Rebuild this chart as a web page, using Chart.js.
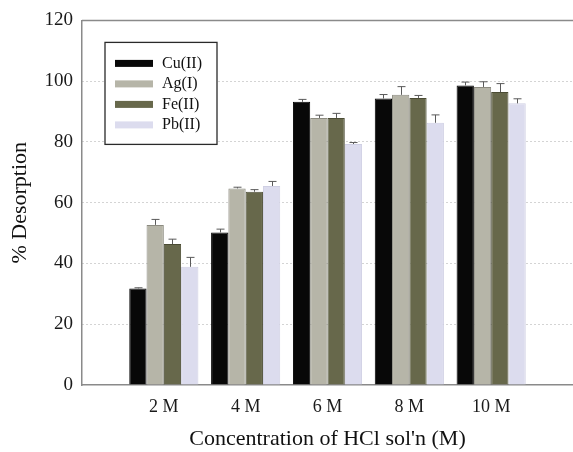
<!DOCTYPE html>
<html>
<head>
<meta charset="utf-8">
<script src="https://cdn.jsdelivr.net/npm/chart.js@4.4.1/dist/chart.umd.min.js"></script>
<style>
  html, body { margin: 0; padding: 0; background: #fff; }
  #wrap { width: 573px; height: 452px; }
</style>
</head>
<body>
<div id="wrap"><canvas id="chart_1"></canvas></div>
<script>
// concentrations (M) and their tick labels
var concentrations = [2, 4, 6, 8, 10];
var tickLabels = ['2 M', '4 M', '6 M', '8 M', '10 M'];

// % desorption per ion
var cuValues = [31.8, 50.2, 93.2, 94.3, 98.6];
var agValues = [52.7, 64.7, 87.9, 95.5, 98.1];
var feValues = [46.4, 63.6, 87.9, 94.5, 96.4];
var pbValues = [38.9, 65.5, 79.3, 86.3, 92.7];

// upper error bars
var cuErrors = [0.2, 1.1, 0.8, 1.3, 1.1];
var agErrors = [1.8, 0.4, 0.9, 2.7, 1.7];
var feErrors = [1.6, 0.7, 1.5, 0.8, 2.8];
var pbErrors = [3.1, 1.5, 0.5, 2.6, 1.5];

var seriesNames = ['Cu(II)', 'Ag(I)', 'Fe(II)', 'Pb(II)'];
var fillColors = ['#080808', '#b6b5a8', '#67684b', '#dcdcee'];
var edgeColors = ['#000000', '#8c8b80', '#4b4c34', '#cfcfe3'];

var serif = "'Liberation Serif', 'DejaVu Serif', serif";

function toPoints(values){
  var pts = [];
  for(var i = 0; i < values.length; i++){
    pts.push({x: concentrations[i], y: values[i]});
  }
  return pts;
}

function makeDataset(i, values, errors){
  return {
    label: seriesNames[i],
    data: toPoints(values),
    errors: errors,
    backgroundColor: fillColors[i],
    borderColor: edgeColors[i],
    borderWidth: 1,
    categoryPercentage: 0.845,
    barPercentage: 1.0
  };
}

// draws the upper half error bars with small caps
var errorBars = {
  id: 'errorBars',
  afterDatasetsDraw: function(chart){
    var ctx = chart.ctx;
    var yScale = chart.scales.y;
    ctx.save();
    ctx.strokeStyle = '#5a5a5a';
    ctx.lineWidth = 1;
    chart.data.datasets.forEach(function(ds, di){
      var meta = chart.getDatasetMeta(di);
      meta.data.forEach(function(bar, j){
        var top = ds.data[j].y + ds.errors[j];
        var yTop = yScale.getPixelForValue(top);
        var yBar = yScale.getPixelForValue(ds.data[j].y);
        var x = Math.round(bar.x) + 0.5;
        ctx.beginPath();
        ctx.moveTo(x, yBar);
        ctx.lineTo(x, yTop);
        ctx.moveTo(x - 4, yTop);
        ctx.lineTo(x + 4, yTop);
        ctx.stroke();
      });
    });
    ctx.restore();
  }
};

// top frame line + boxed legend inside the plot
var frameAndLegend = {
  id: 'frameAndLegend',
  afterDraw: function(chart){
    var ctx = chart.ctx;
    var area = chart.chartArea;
    ctx.save();
    ctx.strokeStyle = '#8a8a8a';
    ctx.lineWidth = 1.5;
    ctx.beginPath();
    ctx.moveTo(area.left, area.top);
    ctx.lineTo(area.right, area.top);
    ctx.stroke();

    var bx = area.left + 23, by = area.top + 22, bw = 112, bh = 102;
    ctx.fillStyle = '#fff';
    ctx.fillRect(bx, by, bw, bh);
    ctx.strokeStyle = '#2a2a2a';
    ctx.lineWidth = 1.3;
    ctx.strokeRect(bx, by, bw, bh);

    ctx.font = '16px ' + serif;
    ctx.textBaseline = 'middle';
    ctx.textAlign = 'left';
    chart.data.datasets.forEach(function(ds, i){
      var rowY = by + 21 + i * 20.5;
      ctx.fillStyle = ds.backgroundColor;
      ctx.fillRect(bx + 10, rowY - 3.5, 38, 7);
      ctx.fillStyle = '#111';
      ctx.fillText(ds.label, bx + 57, rowY);
    });
    ctx.restore();
  }
};

var ctx_1 = document.getElementById('chart_1').getContext('2d');
var chart_1 = new Chart(ctx_1, {
  type: 'bar',
  data: {
    datasets: [
      makeDataset(0, cuValues, cuErrors),
      makeDataset(1, agValues, agErrors),
      makeDataset(2, feValues, feErrors),
      makeDataset(3, pbValues, pbErrors)
    ]
  },
  options: {
    responsive: true,
    maintainAspectRatio: false,
    animation: false,
    layout: { padding: { left: 0, right: 0, top: 20, bottom: 0 } },
    plugins: {
      legend: { display: false },
      tooltip: { enabled: false }
    },
    scales: {
      x: {
        type: 'linear',
        min: 0,
        max: 12,
        offset: false,
        afterBuildTicks: function(scale){
          scale.ticks = concentrations.map(function(v){ return {value: v}; });
        },
        afterFit: function(scale){ scale.height = 67; },
        ticks: {
          padding: 11,
          maxRotation: 0,
          autoSkip: false,
          color: '#1a1a1a',
          font: { family: serif, size: 18 },
          callback: function(value){
            var k = concentrations.indexOf(value);
            return k >= 0 ? tickLabels[k] : '';
          }
        },
        grid: { display: false, drawTicks: false },
        border: { display: true, color: '#8a8a8a', width: 1.5 },
        title: {
          display: true,
          text: "Concentration of HCl sol'n (M)",
          color: '#111',
          font: { family: serif, size: 22 },
          padding: { top: 4, bottom: 0 }
        }
      },
      y: {
        min: 0,
        max: 120,
        afterFit: function(scale){ scale.width = 82; },
        ticks: {
          stepSize: 20,
          padding: 9,
          color: '#1a1a1a',
          font: { family: serif, size: 19 }
        },
        grid: {
          drawTicks: false,
          lineWidth: 1,
          color: function(c){
            if(c.tick && (c.tick.value === 0 || c.tick.value === 120)) return 'rgba(0,0,0,0)';
            return '#a8a8a8';
          }
        },
        border: { display: true, color: '#8a8a8a', width: 1.5, dash: [1, 3] },
        title: {
          display: true,
          text: '% Desorption',
          color: '#111',
          font: { family: serif, size: 22 },
          padding: { top: 7, bottom: 4 }
        }
      }
    }
  },
  plugins: [errorBars, frameAndLegend]
});
</script>
</body>
</html>
